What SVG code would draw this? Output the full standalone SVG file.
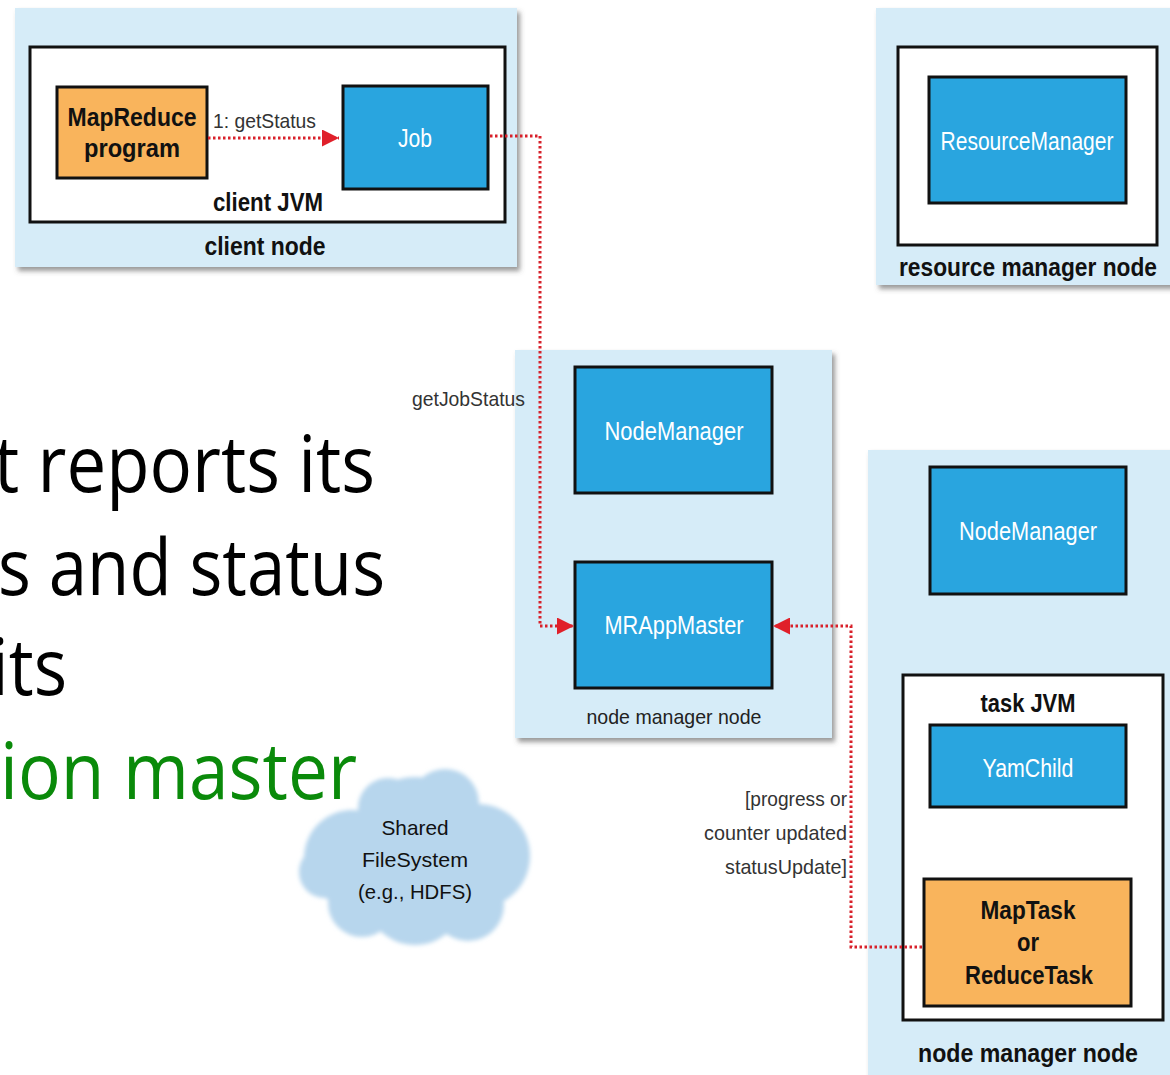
<svg xmlns="http://www.w3.org/2000/svg" width="1170" height="1075" viewBox="0 0 1170 1075">
<defs>
<filter id="sh" x="-5%" y="-5%" width="115%" height="115%">
<feDropShadow dx="3" dy="4" stdDeviation="2.5" flood-color="#555" flood-opacity="0.6"/>
</filter>
<filter id="blur" x="-10%" y="-10%" width="120%" height="120%">
<feGaussianBlur stdDeviation="2"/>
</filter>
<marker id="ah" viewBox="0 0 10 10" refX="10" refY="5" markerWidth="19" markerHeight="17" markerUnits="userSpaceOnUse" orient="auto">
<path d="M0,0 L10,5 L0,10 z" fill="#e0202a"/>
</marker>
<style>
.panel{fill:#d6ecf8;filter:url(#sh)}
.jvm{fill:#fff;stroke:#111;stroke-width:3}
.blue{fill:#29a5df;stroke:#111;stroke-width:3}
.orange{fill:#f9b45c;stroke:#111;stroke-width:3}
.t{font-family:"Liberation Sans",Arial,sans-serif}
.w{fill:#fff;font-size:25px}
.b{fill:#111;font-weight:bold;font-size:26px}
.n{fill:#333;font-size:21px}
.big{font-family:"Open Sans","Liberation Sans",sans-serif;font-size:78px;fill:#000}
.conn{fill:none;stroke:#d8202a;stroke-width:3;stroke-dasharray:2.5 2.5}
</style>
</defs>
<rect width="1170" height="1075" fill="#fff"/>

<g id="slide-text">
<text class="big" x="-6" y="492" textLength="381" lengthAdjust="spacingAndGlyphs">t reports its</text>
<text class="big" x="-2" y="595" textLength="387" lengthAdjust="spacingAndGlyphs">s and status</text>
<text class="big" x="-9" y="695" textLength="76" lengthAdjust="spacingAndGlyphs">its</text>
<text class="big" x="0" y="799" textLength="357" lengthAdjust="spacingAndGlyphs" style="fill:#0a8a0a">ion master</text>
</g>

<g id="client-node">
<rect class="panel" x="15" y="8" width="502" height="259"/>
<rect class="jvm" x="30" y="47" width="475" height="175"/>
<text class="t b" x="268" y="211" text-anchor="middle" textLength="110" lengthAdjust="spacingAndGlyphs">client JVM</text>
<text class="t b" x="265" y="255" text-anchor="middle" textLength="121" lengthAdjust="spacingAndGlyphs">client node</text>
</g>
<g id="mapreduce-program">
<rect class="orange" x="57" y="87" width="150" height="91"/>
<text class="t b" x="132" y="126" text-anchor="middle" textLength="129" lengthAdjust="spacingAndGlyphs">MapReduce</text>
<text class="t b" x="132" y="157" text-anchor="middle" textLength="96" lengthAdjust="spacingAndGlyphs">program</text>
</g>
<g id="job">
<rect class="blue" x="343" y="86" width="145" height="103"/>
<text class="t w" x="415" y="147" text-anchor="middle" textLength="34" lengthAdjust="spacingAndGlyphs">Job</text>
</g>

<g id="resource-manager-node">
<rect class="panel" x="876" y="8" width="300" height="277"/>
<rect class="jvm" x="898" y="47" width="259" height="198"/>
<rect class="blue" x="929" y="77" width="197" height="126"/>
<text class="t w" x="1027" y="150" text-anchor="middle" textLength="173" lengthAdjust="spacingAndGlyphs">ResourceManager</text>
<text class="t b" x="1028" y="276" text-anchor="middle" textLength="258" lengthAdjust="spacingAndGlyphs">resource manager node</text>
</g>

<g id="node-manager-node-1">
<rect class="panel" x="515" y="350" width="317" height="388"/>
<rect class="blue" x="575" y="367" width="197" height="126"/>
<text class="t w" x="674" y="440" text-anchor="middle" textLength="139" lengthAdjust="spacingAndGlyphs">NodeManager</text>
<rect class="blue" x="575" y="562" width="197" height="126"/>
<text class="t w" x="674" y="634" text-anchor="middle" textLength="139" lengthAdjust="spacingAndGlyphs">MRAppMaster</text>
<text class="t n" x="674" y="724" text-anchor="middle" textLength="175" lengthAdjust="spacingAndGlyphs" style="fill:#222">node manager node</text>
</g>

<g id="node-manager-node-2">
<rect class="panel" x="868" y="450" width="310" height="630"/>
<rect class="blue" x="930" y="467" width="196" height="127"/>
<text class="t w" x="1028" y="540" text-anchor="middle" textLength="138" lengthAdjust="spacingAndGlyphs">NodeManager</text>
<rect class="jvm" x="903" y="675" width="260" height="345"/>
<text class="t b" x="1028" y="712" text-anchor="middle" textLength="95" lengthAdjust="spacingAndGlyphs">task JVM</text>
<rect class="blue" x="930" y="725" width="196" height="82"/>
<text class="t w" x="1028" y="777" text-anchor="middle" textLength="91" lengthAdjust="spacingAndGlyphs">YamChild</text>
<rect class="orange" x="924" y="879" width="207" height="127"/>
<text class="t b" x="1028" y="919" text-anchor="middle" textLength="95" lengthAdjust="spacingAndGlyphs">MapTask</text>
<text class="t b" x="1028" y="951" text-anchor="middle" textLength="22" lengthAdjust="spacingAndGlyphs">or</text>
<text class="t b" x="1029" y="984" text-anchor="middle" textLength="128" lengthAdjust="spacingAndGlyphs">ReduceTask</text>
<text class="t b" x="1028" y="1062" text-anchor="middle" textLength="220" lengthAdjust="spacingAndGlyphs">node manager node</text>
</g>

<g id="shared-filesystem">
<g fill="#b7d6ed" filter="url(#blur)">
<circle cx="415" cy="835" r="58"/>
<circle cx="352" cy="858" r="48"/>
<circle cx="478" cy="856" r="52"/>
<circle cx="415" cy="895" r="50"/>
<circle cx="362" cy="903" r="34"/>
<circle cx="468" cy="905" r="36"/>
<circle cx="445" cy="803" r="34"/>
<circle cx="388" cy="808" r="30"/>
<circle cx="325" cy="872" r="26"/>
</g>
<text class="t n" x="415" y="835" text-anchor="middle" textLength="67" lengthAdjust="spacingAndGlyphs" style="fill:#111">Shared</text>
<text class="t n" x="415" y="867" text-anchor="middle" textLength="106" lengthAdjust="spacingAndGlyphs" style="fill:#111">FileSystem</text>
<text class="t n" x="415" y="899" text-anchor="middle" textLength="114" lengthAdjust="spacingAndGlyphs" style="fill:#111">(e.g., HDFS)</text>
</g>

<g id="connectors">
<path class="conn" d="M208,138 L339,138" marker-end="url(#ah)"/>
<path class="conn" d="M490,136 L540,136 L540,626 L574,626" marker-end="url(#ah)"/>
<path class="conn" d="M922,947 L851,947 L851,626 L773,626" marker-end="url(#ah)"/>
<text class="t n" x="213" y="128" textLength="103" lengthAdjust="spacingAndGlyphs">1: getStatus</text>
<text class="t n" x="412" y="406" textLength="113" lengthAdjust="spacingAndGlyphs">getJobStatus</text>
<text class="t n" x="847" y="806" text-anchor="end" textLength="102" lengthAdjust="spacingAndGlyphs">[progress or</text>
<text class="t n" x="847" y="840" text-anchor="end" textLength="143" lengthAdjust="spacingAndGlyphs">counter updated</text>
<text class="t n" x="847" y="874" text-anchor="end" textLength="122" lengthAdjust="spacingAndGlyphs">statusUpdate]</text>
</g>
</svg>
